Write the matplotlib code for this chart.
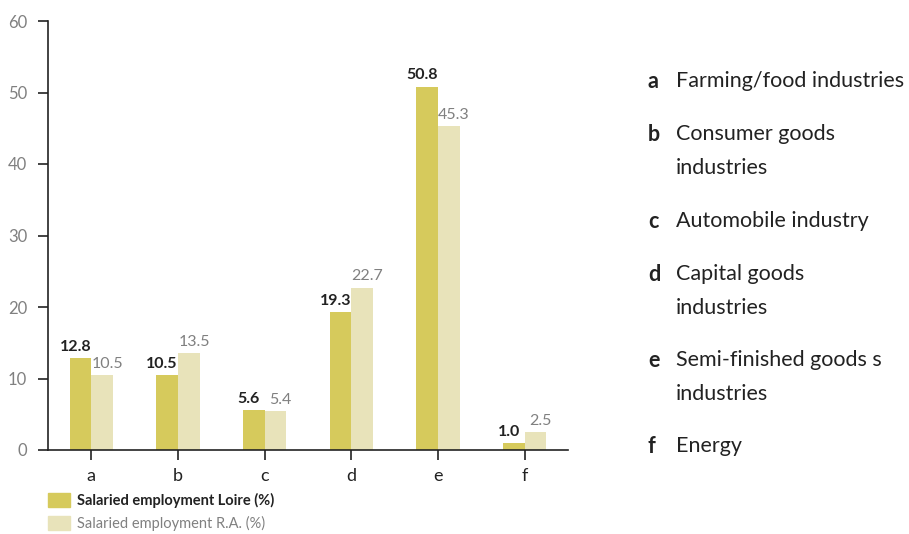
import numpy as np
import matplotlib.pyplot as plt
from matplotlib.patches import Rectangle

categories = ["a", "b", "c", "d", "e", "f"]
loire = [12.8, 10.5, 5.6, 19.3, 50.8, 1.0]
rhone_alpes = [10.5, 13.5, 5.4, 22.7, 45.3, 2.5]
descriptions = [
    "Farming/food industries",
    "Consumer goods\nindustries",
    "Automobile industry",
    "Capital goods\nindustries",
    "Semi-finished goods s\nindustries",
    "Energy",
]
series_names = ["Salaried employment Loire (%)", "Salaried employment R.A. (%)"]

c_loire = "#D6CA5C"
c_ra = "#E8E3BA"
grey = "#808080"
dark = "#222222"

plt.rcParams["font.family"] = ["Lato", "DejaVu Sans"]

fig = plt.figure(figsize=(9.09, 5.34), dpi=100)
W, H = 909, 534
ax = fig.add_axes([48 / W, 1 - 450 / H, (568 - 48) / W, (450 - 21) / H])

x = np.arange(len(categories))
w = 0.25
b1 = ax.bar(x - w / 2, loire, w, color=c_loire)
b2 = ax.bar(x + w / 2, rhone_alpes, w, color=c_ra)

for rect, v in zip(b1, loire):
    ax.text(rect.get_x() + rect.get_width() / 2 - 0.06, v + 0.6, f"{v:.1f}",
            ha="center", va="bottom", fontsize=11.5, fontweight="bold", color=dark)
for rect, v in zip(b2, rhone_alpes):
    ax.text(rect.get_x() + rect.get_width() / 2 + 0.06, v + 0.6, f"{v:.1f}",
            ha="center", va="bottom", fontsize=11.5, color=grey)

ax.set_xlim(-0.5, 5.5)
ax.set_ylim(0, 60)
ax.set_yticks(range(0, 61, 10))
ax.set_xticks(x)
ax.set_xticklabels(categories)
for s in ["top", "right"]:
    ax.spines[s].set_visible(False)
for s in ["left", "bottom"]:
    ax.spines[s].set_color(dark)
    ax.spines[s].set_linewidth(1.2)
ax.tick_params(axis="y", length=7, width=1.2, color=dark, labelsize=12,
               labelcolor=grey, pad=8)
ax.tick_params(axis="x", length=7, width=1.2, color=dark, labelsize=13,
               labelcolor=dark, pad=6)

# legend below the chart
for i, (name, col) in enumerate(zip(series_names, [c_loire, c_ra])):
    y = 1 - (500 + i * 23) / H
    fig.patches.append(Rectangle((48 / W, y - 7 / H), 22 / W, 14 / H,
                                 transform=fig.transFigure, color=col))
    fig.text(77 / W, y, name, va="center", ha="left", fontsize=10.5,
             fontweight="bold" if i == 0 else "normal",
             color=dark if i == 0 else grey)

# category descriptions on the right
y_pos = [80, 133, 220, 273, 359, 445]
for cat, desc, yp in zip(categories, descriptions, y_pos):
    fig.text(648 / W, 1 - (yp - 9) / H, cat, va="top", ha="left", fontsize=15.5,
             fontweight="bold", color=dark)
    fig.text(676 / W, 1 - (yp - 9) / H, desc, va="top", ha="left",
             fontsize=15.5, color=dark, linespacing=1.85)

fig.savefig("out.png", dpi=100, facecolor="white")
